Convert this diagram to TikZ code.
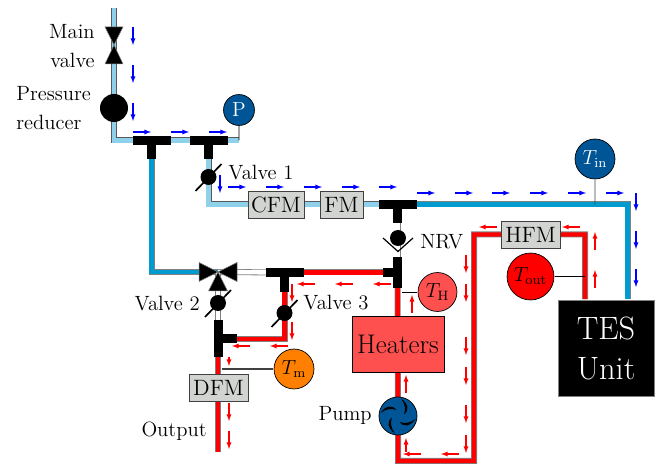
\documentclass[tikz,border=0pt]{standalone}
\usetikzlibrary{backgrounds}
\definecolor{coldpipe}{HTML}{8FD0EA}
\definecolor{midpipe}{HTML}{009CCF}
\definecolor{darkdial}{HTML}{005596}
\definecolor{meterbox}{HTML}{D2D4D2}
\definecolor{warmdial}{HTML}{FF5050}
\definecolor{mixdial}{HTML}{FF8000}
\tikzset{
	pipe/.style={draw=gray, line width=0.8pt, double distance=4.4pt, line join=miter},
	lightpipe/.style={pipe, draw=black!65, double=coldpipe},
	bluepipe/.style={pipe, double=midpipe},
	redpipe/.style={pipe, double=red},
	openpipe/.style={pipe, double=white},
	teepart/.style={fill=black, inner sep=0pt, minimum width=#1, minimum height=9pt},
	teestem/.style={fill=black, inner sep=0pt, minimum width=9pt, minimum height=#1},
	ball/.style={circle, fill=black, inner sep=0pt, minimum size=#1},
	dial/.style={circle, draw=black, line width=0.7pt, fill=#1, inner sep=0pt, font=\large, scale=1.7},
	meter/.style={draw=darkgray, line width=0.9pt, fill=meterbox, inner sep=0pt, minimum height=14.6pt, font=\large, scale=1.85},
	label/.style={font=\fontsize{12}{17}\selectfont, align=left, inner sep=0pt, scale=1.72},
	bflow/.style={->, >=latex, blue, line width=1.25pt},
	rflow/.style={->, >=latex, red, line width=1.25pt},
	tri/.style={fill=black, draw=gray, line width=0.5pt, line join=miter}
}
\begin{document}
\begin{tikzpicture}[x=1pt, y=-1pt]
	\useasboundingbox (0,0) rectangle (665,470);
	
	%free pipe ends and corners
	\coordinate (inlet) at (114,8);
	\coordinate (outlet) at (218,452);
	\coordinate (loopbottom) at (474,461);
	
	%main line
	\node (mainvalve) at (114,45) [inner sep=0pt]{};
	\node (reducer) at (114,108) [ball=28pt]{};
	\node (teeA) at (152,140.5) [teepart=38pt]{};
	\node (teeAstem) at (151.5,150) [teestem=18pt]{};
	\node (teeB) at (209,140.5) [teepart=38pt]{};
	\node (teeBstem) at (208.5,150) [teestem=18pt]{};
	\node (psensor) at (239,110) [dial=darkdial, text=white, minimum size=18.2pt]{P};
	\node (pjoint) at (239,140.5) [inner sep=0pt]{};
	
	%cold branch with meters
	\node (valveone) at (208.5,177) [ball=16pt]{};
	\node (cfm) at (276,204.5) [meter, minimum width=30.3pt]{CFM};
	\node (fm) at (341.5,204.5) [meter, minimum width=23.2pt]{FM};
	\node (teeC) at (398,204.5) [teepart=38pt]{};
	\node (teeCstem) at (397.5,214) [teestem=18pt]{};
	\node (nrv) at (398,238) [ball=16pt]{};
	\node (teeD) at (397.5,272.5) [teestem=31pt]{};
	\node (teeDside) at (388,272.5) [teepart=10pt]{};
	\node (tin) at (595,159) [dial=darkdial, text=white, minimum size=23.5pt]{$T_{\mathrm{in}}$};
	\node (tinjoint) at (595,204.5) [inner sep=0pt]{};
	
	%storage and hot loop
	\node (tes) at (606,348) [draw=gray, line width=0.9pt, fill=black, text=white, minimum size=51.3pt, inner sep=0pt, align=center, font=\fontsize{17.28}{21.4}\selectfont, scale=1.87]{TES\\Unit};
	\node (hfm) at (530.5,234.5) [meter, minimum width=31.9pt]{HFM};
	\node (tout) at (530.5,276.5) [dial=red, minimum size=27.6pt]{$T_{\mathrm{out}}$};
	\node (toutjoint) at (585,276.5) [inner sep=0pt]{};
	\node (heaters) at (398,344) [draw=black, line width=0.8pt, fill=warmdial, minimum width=59pt, minimum height=35.9pt, inner sep=0pt, font=\LARGE, scale=1.56]{Heaters};
	\node (pump) at (398,416) [dial=darkdial, minimum size=22.4pt]{};
	\node (th) at (437.5,292) [dial=warmdial, minimum size=22.9pt]{$T_{\mathrm{H}}$};
	\node (thjoint) at (398,292) [inner sep=0pt]{};
	
	%mixing part
	\node (threeway) at (218,272) [inner sep=0pt]{};
	\node (teeE) at (284.5,272.5) [teepart=38pt]{};
	\node (teeEstem) at (284.5,284) [teestem=17pt]{};
	\node (valvetwo) at (218,303) [ball=16pt]{};
	\node (valvethree) at (284.5,313) [ball=16pt]{};
	\node (teeF) at (218,338.5) [teestem=37pt]{};
	\node (teeFside) at (229,339) [teepart=16pt]{};
	\node (dfm) at (218.5,388) [meter, minimum width=31.9pt]{DFM};
	\node (tm) at (294,369) [dial=mixdial, minimum size=23.5pt]{$T_{\mathrm{m}}$};
	\node (tmjoint) at (218,369) [inner sep=0pt]{};
	
	%pipes stay behind everything
	\begin{scope}[on background layer]
		\draw[lightpipe] (inlet) -- (reducer.center) |- (teeB.center) -- (pjoint.center);
		\draw[lightpipe] (teeBstem.center) |- (cfm.center) -- (teeC.center);
		\draw[bluepipe] (teeAstem.center) |- (threeway.center);
		\draw[bluepipe] (teeC.center) -| ([xshift=21.5pt]tes.north);
		\draw[openpipe] (teeCstem.center) -- (teeD.center);
		\draw[openpipe] (threeway.center) -- (teeE.center);
		\draw[openpipe] (threeway.center) -- (teeF.center);
		\draw[redpipe] (teeD.center) -- (teeE.center);
		\draw[redpipe] (teeEstem.center) |- (teeFside.center);
		\draw[redpipe] (teeF.center) -- (outlet);
		\draw[redpipe] (teeD.center) -- (pump.center) |- (loopbottom) |- (hfm.center) -| ([xshift=-21pt]tes.north);
	\end{scope}
	
	%sensor wires
	\draw[black, line width=0.9pt] (psensor) -- (pjoint.center);
	\draw[black!75, line width=0.9pt] (tin) -- (tinjoint.center);
	\draw[black, line width=0.9pt] (tout) -- (toutjoint.center);
	\draw[black, line width=0.9pt] (th) -- ([xshift=4pt]thjoint.center);
	\draw[darkgray, line width=1.1pt] (tm) -- ([xshift=4pt]tmjoint.center);
	
	%valve handles
	\foreach \v in {valveone, valvetwo, valvethree}{
		\draw[black, line width=1.7pt] ([shift={(-13,14)}]\v.center) -- ([shift={(13,-13)}]\v.center);
	}
	\draw[black, line width=1.2pt] ([shift={(-15,0)}]nrv.center) -- ([shift={(0,13.5)}]nrv.center) -- ([shift={(15,0)}]nrv.center);
	
	%valve triangles
	\draw[tri] (mainvalve.center) -- ++(-9,-18) -- ++(18,0) -- cycle;
	\draw[tri] (mainvalve.center) -- ++(-9,19) -- ++(18,0) -- cycle;
	\draw[tri] (threeway.center) -- ++(-19,-9.5) -- ++(0,19) -- cycle;
	\draw[tri] (threeway.center) -- ++(19,-9.5) -- ++(0,19) -- cycle;
	\draw[tri] (threeway.center) -- ++(-9.5,19) -- ++(19,0) -- cycle;
	
	%pump blades
	\foreach \a in {0, 90, 180, 270}{
		\fill[black, shift={(398,416)}, rotate=\a] (3,-17.5) .. controls (11,-12) and (11,-5) .. (6,-1.5) .. controls (8,-7) and (7,-12) .. cycle;
	}
	
	%labels
	\node (mainlabel) at (95,46) [label, align=right, anchor=east]{Main\\valve};
	\node (reducerlabel) at (16,108) [label, anchor=west]{Pressure\\reducer};
	\node (valveonelabel) at (228,173) [label, anchor=west]{Valve 1};
	\node (nrvlabel) at (420,242) [label, anchor=west]{NRV};
	\node (valvetwolabel) at (200,304) [label, anchor=east]{Valve 2};
	\node (valvethreelabel) at (303,303) [label, anchor=west]{Valve 3};
	\node (pumplabel) at (372,415) [label, anchor=east]{Pump};
	\node (outputlabel) at (207,431) [label, anchor=east]{Output};
	
	%blue flow
	\foreach \x/\y in {133/27, 133/65, 133/103, 220/175, 636/193, 636/231, 636/269}{
		\draw[bflow] (\x,\y) -- ++(0,18);
	}
	\foreach \x/\y in {133/132, 171/132, 209/132, 228/187, 266/187, 304/187, 342/187, 379/187, 417/193, 455/193, 492/193, 530/193, 568/193, 606/193}{
		\draw[bflow] (\x,\y) -- ++(18,0);
	}
	
	%red flow
	\foreach \x/\y in {466/255, 466/284, 466/337, 466/367, 466/405, 466/435, 292/284, 292/322, 229/403, 229/431}{
		\draw[rflow] (\x,\y) -- ++(0,18);
	}
	\draw[rflow] (229,357) -- ++(0,9);
	\foreach \x/\y in {595/250, 595/288, 412/313, 406/393}{
		\draw[rflow] (\x,\y) -- ++(0,-18);
	}
	\draw[rflow] (406,452) -- ++(0,-14);
	\foreach \x/\y in {497/227, 580/227, 315/284, 353/284, 391/284, 288/346, 250/346, 421/454, 459/454}{
		\draw[rflow] (\x,\y) -- ++(-18,0);
	}
\end{tikzpicture}
\end{document}
